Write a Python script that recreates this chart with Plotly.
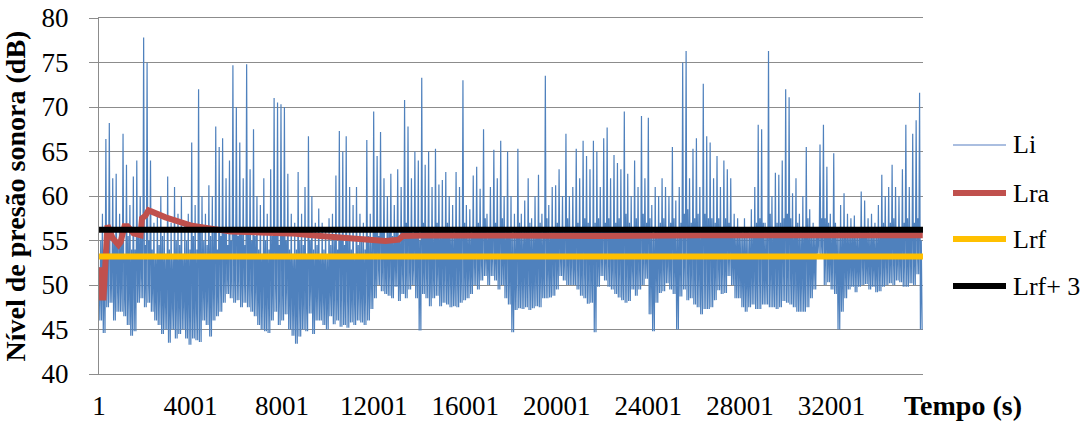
import plotly.graph_objects as go

# ---------------- data ----------------
STEP = 150  # seconds between successive Li readings
# peak reached in each reading window
li_high = [
    52, 58, 66.4, 68.2, 62, 62.5, 58, 67, 63.5, 59, 62.2, 64, 60, 77.8, 75, 64, 57, 58, 60, 56,
    62.2, 57, 61, 58, 60, 57, 58, 66, 59, 72, 60, 58, 61.2, 60, 67.8, 65.5, 66.5, 62, 64, 74.7,
    70, 66, 62, 74.8, 63, 67.5, 60, 59, 62, 58, 63, 71, 70.5, 70.3, 70, 62.5, 58, 57, 62.7, 58,
    61, 66.7, 60, 57, 58.6, 57, 56.5, 57.5, 58, 62.3, 67.3, 65, 66.7, 61, 59, 61, 58, 57, 66.3, 58,
    69.5, 64.5, 67.2, 62, 60, 62.5, 59, 63, 61, 70.8, 67.8, 62, 65, 64, 73.3, 63.5, 65, 61, 65.3, 61.3,
    61.8, 62.7, 60, 59, 62.7, 61, 73, 59, 58.5, 62.3, 63.3, 60.8, 67.5, 58, 61, 65.2, 62, 66.2, 60, 65,
    60, 58, 65.3, 58, 59.5, 62, 57.5, 60, 62.4, 58, 73.5, 59, 61, 61.2, 63, 60, 67, 60, 61, 65.3,
    62, 66.2, 64.5, 63, 66.2, 65, 61, 66.5, 67.7, 62, 64.6, 63.7, 63, 69.5, 62.5, 60, 64, 61, 69, 62,
    68.8, 59, 61, 60, 62, 61, 60, 65.5, 59.5, 61, 75, 76.3, 62, 65.3, 66.5, 61, 72.6, 66.7, 66, 62,
    64.5, 61, 64, 63, 62, 58, 57.5, 56.5, 57.5, 56, 58.5, 61, 68, 67.5, 57, 76.3, 60, 62.6, 62.4, 64,
    72, 71.1, 60.3, 62, 58, 60, 65.5, 58.5, 57, 56.5, 65.8, 68, 63.3, 58, 64.8, 56.5, 59, 60.3, 58, 57.5,
    57.8, 56.5, 60.5, 59.5, 57.5, 58, 57, 59, 62.4, 60, 61, 63.5, 61, 60, 63, 68, 61, 67, 68.5, 71.6,
]
# minimum reached in each reading window
li_low = [
    46, 44.6, 47.5, 48, 46, 47, 47, 46.5, 45.5, 44.3, 44.8, 48, 48.5, 47.5, 48, 47, 46, 45.5, 44.5, 45,
    43.5, 45, 44, 44.5, 45, 44, 43.3, 44, 43.8, 43.6, 46, 45.5, 44.2, 46, 46.5, 47, 48, 49, 48.5, 48,
    48.3, 47.5, 48, 47.5, 47, 46.5, 45.5, 45, 44.8, 44.6, 46, 47, 45.5, 46, 46.7, 45, 44.3, 43.4, 44.2, 45,
    44.8, 46.8, 44.5, 46, 46, 45.5, 45, 46.5, 45.6, 46, 45.3, 45.5, 45.2, 45.8, 45.5, 46, 45.8, 45.5, 46, 47.3,
    48.5, 50, 49.3, 49, 48.8, 48.5, 49.8, 48.2, 49, 48.5, 49.5, 50, 48.5, 44.9, 49, 48.5, 47.6, 48.5, 48.8, 47.6,
    48, 47.8, 47.5, 47.6, 47.5, 48, 48.3, 48.5, 49, 50, 49.5, 50.5, 51, 50, 51, 50.5, 49.5, 50, 48.5, 47.8,
    44.7, 47.2, 47.4, 47.3, 47.5, 47.2, 47.4, 47.6, 47.5, 48.5, 48.5, 48.6, 48.8, 49.5, 51, 50.5, 50, 50, 50, 49.5,
    48.8, 48.5, 47.9, 48, 44.7, 49.8, 51, 50.5, 49.8, 49.5, 49, 48.6, 48.3, 48, 48.2, 49.5, 48.8, 49.5, 50, 50.7,
    46.7, 44.8, 48, 49.1, 49.3, 50.2, 49.5, 49, 45, 48.7, 49.5, 48.3, 48.5, 47.8, 47.5, 46.7, 47.3, 47.3, 47.5, 48.3,
    49.4, 49, 49.1, 51, 50, 48.5, 48.5, 47.5, 47, 47.5, 47.8, 47.3, 47.3, 47.8, 47.8, 47.5, 47.5, 47.3, 47.5, 48.2,
    48, 47.8, 47.5, 47, 47, 47, 47.5, 48.5, 49.5, 53.5, 53, 50, 50.3, 49.5, 49, 45, 47, 48.5, 49.5, 49.8,
    49.2, 49.8, 50, 50.1, 49.5, 49.8, 49.2, 49.3, 49.8, 50, 50.2, 50, 50.5, 50.3, 49.8, 49.8, 50.2, 50, 51.2, 45,
]
# top of the dense core of the band in each reading window
li_core = [
    55, 54, 56, 53.5, 55, 54.5, 56, 53, 55.5, 54,
    54, 55.5, 56, 54.5, 55, 54, 53, 54.5, 55.5, 53.5,
    54, 53, 55, 54.5, 53.5, 55, 54, 55.5, 54, 56,
    55, 54.5, 55.5, 56, 54, 55.5, 56, 54.5, 55, 56.5,
    55.5, 56, 54.5, 56, 55, 55.5, 54, 53.5, 55, 54,
    55.5, 56, 54.5, 56, 55, 54, 53.5, 54, 55, 54.5,
    53.5, 55, 54, 54.5, 53.5, 54, 53, 54.5, 55, 54,
    55.5, 54.5, 55, 54, 53.5, 54.5, 55, 54, 55.5, 55,
    56, 55.5, 56.5, 55, 56, 55.5, 56, 55, 56.5, 57,
    56, 55.5, 56.5, 55, 57, 56, 56.5, 55.5, 57, 56,
    56.5, 57, 56, 55.5, 56.5, 56, 57, 56, 55.5, 56.5,
    57, 56, 57.5, 56, 56.5, 57, 56, 57.5, 56, 56.5,
    55.5, 56, 57, 56, 56.5, 57, 56, 56.5, 57, 56,
    57.5, 56, 56.5, 57, 56.5, 56, 57.5, 56.5, 56, 57,
    56.5, 57.5, 57, 56.5, 57, 57.5, 56, 57, 57.5, 56.5,
    57, 57.5, 56.5, 58, 57, 56.5, 57.5, 56.5, 58, 57,
    57.5, 55.5, 56.5, 57, 57.5, 56.5, 57, 57.5, 56, 57,
    58, 58.5, 57, 57.5, 58, 56.5, 58, 57.5, 57.5, 57,
    57.5, 56.5, 57.5, 57, 56.5, 56, 56.5, 55.5, 56, 55.5,
    56.5, 57, 57.5, 57, 56, 58, 56.5, 57, 57, 57.5,
    58, 57.5, 56.5, 57, 56, 56.5, 57.5, 56, 56, 56.5,
    57.5, 57.5, 57, 56, 57, 55.5, 56, 56.5, 56, 56,
    56.5, 55.5, 56.5, 56, 55.5, 56, 55.5, 56, 57, 56.5,
    57, 57.5, 56.5, 56.5, 57, 57.5, 56.5, 57, 57.5, 55,
]

lra_time = [67, 132, 198, 307, 372, 591, 853, 941, 1115, 1246, 1508, 1815, 1880, 2033, 2164, 2251,
            2907, 4000, 4873, 5747, 7058, 8369, 9680, 10990, 11865, 12520, 13090, 13263, 14487,
            17546, 21916, 26286, 30656, 35990]
lra_value = [52, 48.6, 48.6, 56.5, 56.7, 55.3, 54.5, 54.8, 56.6, 56.6, 55.8, 55.6, 57.5, 57.8, 58.4, 58.3,
             57.6, 56.7, 56.3, 56.0, 55.9, 55.8, 55.5, 55.2, 55.0, 54.95, 55.1, 55.5, 55.6,
             55.5, 55.5, 55.6, 55.6, 55.6]

lrf_value = 53.2
lrf3_value = 56.2
time_span = [1, 36000]

x_ticks = [1, 4001, 8001, 12001, 16001, 20001, 24001, 28001, 32001]
y_ticks = [40, 45, 50, 55, 60, 65, 70, 75, 80]

series_names = ["Li", "Lra", "Lrf", "Lrf+ 3"]
series_colors = ["#4F81BD", "#C0504D", "#FFC000", "#000000"]

# ---------------- build Li trace from the readings ----------------
# each window: peak, minimum, core top, minimum again
li_x, li_y = [], []
for k, (hi, lo, core) in enumerate(zip(li_high, li_low, li_core)):
    t0 = 1 + STEP * k
    li_x += [t0, t0 + STEP // 4, t0 + STEP // 2, t0 + 3 * STEP // 4]
    li_y += [hi, lo, core, lo]

FONT = "Liberation Serif, DejaVu Serif, serif"
GRID = "#8C8C8C"

fig = go.Figure()
fig.add_trace(go.Scatter(x=li_x, y=li_y, mode="lines", name=series_names[0],
                         line=dict(color=series_colors[0], width=1.2)))
fig.add_trace(go.Scatter(x=lra_time, y=lra_value, mode="lines", name=series_names[1],
                         line=dict(color=series_colors[1], width=6)))
fig.add_trace(go.Scatter(x=time_span, y=[lrf_value] * 2, mode="lines", name=series_names[2],
                         line=dict(color=series_colors[2], width=6)))
fig.add_trace(go.Scatter(x=time_span, y=[lrf3_value] * 2, mode="lines", name=series_names[3],
                         line=dict(color=series_colors[3], width=6)))

L, R, T, B = 99, 163, 18, 49
W, H = 1086, 423
pw, ph = W - L - R, H - T - B


def px_x(p):
    return (p - L) / pw


def px_y(p):
    return 1 - (p - T) / ph


# manual legend (matches the reference's long sample lines)
legend_rows = [145, 193, 239, 286]
legend_widths = [1.5, 6, 6, 6]
legend_colors = ["#8EA9D6", series_colors[1], series_colors[2], series_colors[3]]
shapes, annotations = [], []
for name, row, lw, col in zip(series_names, legend_rows, legend_widths, legend_colors):
    shapes.append(dict(type="line", xref="paper", yref="paper",
                       x0=px_x(953), x1=px_x(1006), y0=px_y(row), y1=px_y(row),
                       line=dict(color=col, width=lw)))
    annotations.append(dict(text=name, xref="paper", yref="paper", x=px_x(1011), y=px_y(row),
                            xanchor="left", yanchor="middle", showarrow=False,
                            font=dict(family=FONT, size=26, color="black")))

annotations.append(dict(text="Tempo (s)", xref="paper", yref="paper", x=px_x(963), y=px_y(405),
                        xanchor="center", yanchor="middle", showarrow=False,
                        font=dict(family=FONT, size=28, color="black", weight="bold")))

fig.update_layout(
    width=W, height=H,
    margin=dict(l=L, r=R, t=T, b=B),
    paper_bgcolor="white", plot_bgcolor="white",
    showlegend=False,
    shapes=shapes, annotations=annotations,
    font=dict(family=FONT, size=27, color="black"),
    xaxis=dict(range=[0.5, 36000.5], tickmode="array", tickvals=x_ticks,
               ticktext=[str(v) for v in x_ticks], showgrid=False, zeroline=False,
               showline=True, linecolor=GRID, linewidth=1, mirror=True, ticks="",
               automargin=False,
               ticklabelstandoff=8, tickfont=dict(family=FONT, size=27, color="black")),
    yaxis=dict(range=[40, 80], tickmode="array", tickvals=y_ticks, showgrid=True,
               gridcolor=GRID, gridwidth=1, zeroline=False, showline=True, linecolor=GRID,
               linewidth=1, ticks="outside", ticklen=9, tickcolor=GRID, tickwidth=1,
               automargin=False,
               ticklabelstandoff=15, tickfont=dict(family=FONT, size=27, color="black"),
               title=dict(text="Nível de presão sonora (dB)", standoff=8,
                          font=dict(family=FONT, size=28, color="black", weight="bold"))),
)

fig.write_html("out.html")
